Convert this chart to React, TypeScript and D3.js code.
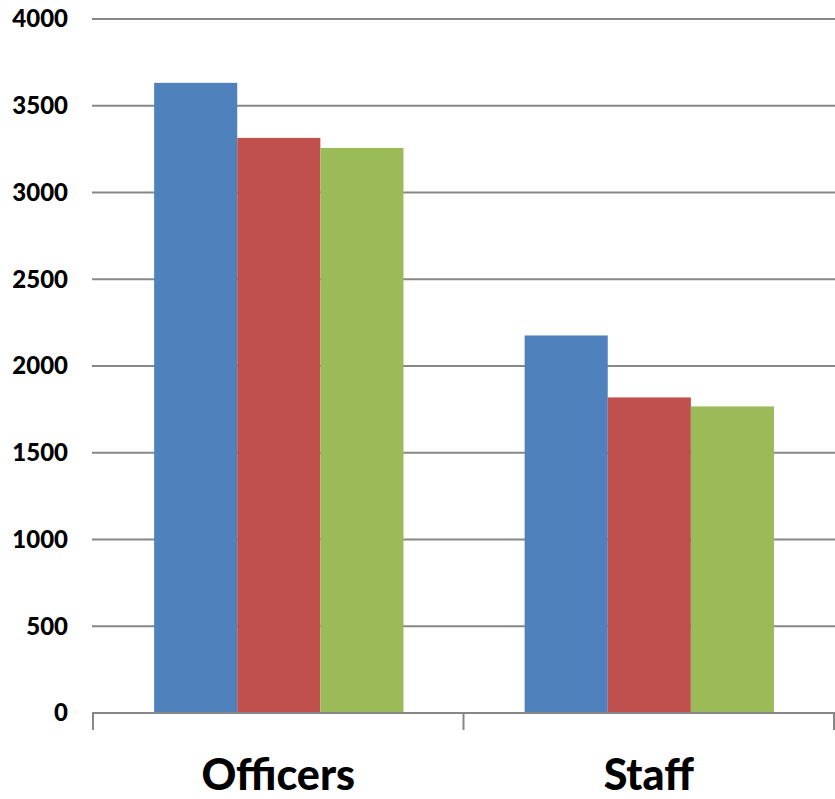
import React from "react";
import * as d3 from "d3";

const categories = ["Officers", "Staff"];
const seriesNames = ["Series 1", "Series 2", "Series 3"];
const series1 = [3632, 2176];
const series2 = [3315, 1819];
const series3 = [3257, 1767];
const yTicks = [0, 500, 1000, 1500, 2000, 2500, 3000, 3500, 4000];
const colors = ["#4F81BD", "#C0504D", "#9BBB59"];

const W = 835;
const H = 799;

export default function App() {
  const values = [series1, series2, series3];
  const y = d3.scaleLinear().domain([0, 4000]).range([713, 19]);
  const x = d3.scaleBand().domain(categories).range([93, 834]).paddingInner(0).paddingOuter(0);
  const bw = x.bandwidth();
  const inner = d3.scaleBand().domain(seriesNames).range([bw * 0.165, bw * 0.838]).padding(0);
  const font = "Lato, 'Open Sans', sans-serif";
  return (
    <svg width={W} height={H} style={{ position: "absolute", left: 0, top: 0, background: "#fff" }}>
      {yTicks.slice(1).map((t) => (
        <line key={t} x1={92} x2={835} y1={y(t)} y2={y(t)} stroke="#878787" strokeWidth={2} />
      ))}
      {categories.map((c, ci) =>
        seriesNames.map((s, si) => (
          <rect
            key={c + s}
            x={(x(c) as number) + (inner(s) as number)}
            y={y(values[si][ci])}
            width={inner.bandwidth()}
            height={y(0) - y(values[si][ci])}
            fill={colors[si]}
          />
        ))
      )}
      <line x1={92} x2={835} y1={y(0)} y2={y(0)} stroke="#878787" strokeWidth={2} />
      {[...categories.map((c) => x(c) as number), 834].map((tx, i) => (
        <line key={i} x1={tx} x2={tx} y1={y(0)} y2={y(0) + 17} stroke="#878787" strokeWidth={2} />
      ))}
      {yTicks.map((t) => (
        <text
          key={t}
          x={68}
          y={y(t)}
          dy="0.35em"
          textAnchor="end"
          fontFamily={font}
          fontWeight={900}
          fontSize={24}
          fill="#000"
        >
          {t}
        </text>
      ))}
      {categories.map((c) => (
        <text
          key={c}
          x={(x(c) as number) + bw / 2}
          y={790}
          textAnchor="middle"
          fontFamily={font}
          fontWeight={900}
          fontSize={43}
          fill="#000"
        >
          {c}
        </text>
      ))}
    </svg>
  );
}
